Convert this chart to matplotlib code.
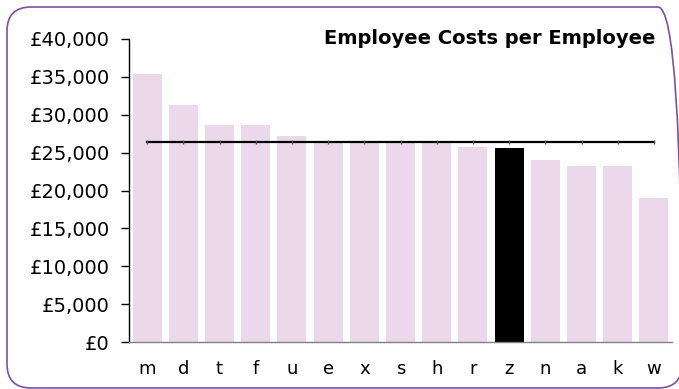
import matplotlib
matplotlib.use("Agg")
import matplotlib.pyplot as plt
from matplotlib.patches import FancyBboxPatch
from matplotlib.ticker import FuncFormatter

# Employee costs per employee by organisation
categories = ["m", "d", "t", "f", "u", "e", "x", "s", "h", "r", "z", "n", "a", "k", "w"]
costs = [35400, 31300, 28650, 28650, 27200, 26400, 26250, 26250, 26250,
         25800, 25600, 24000, 23300, 23300, 19000]
highlight = "z"
average_cost = 26450

plt.rcParams["font.family"] = ["DejaVu Sans"]

W, H, DPI = 679, 389, 100
fig = plt.figure(figsize=(W / DPI, H / DPI), dpi=DPI)
fig.patch.set_facecolor("white")

# rounded purple frame around the chart (display pixel coordinates)
frame = FancyBboxPatch((7, 1), 675, 381,
                       boxstyle="round,pad=0,rounding_size=24",
                       transform=None,
                       facecolor="none", edgecolor="#7E4FA3", linewidth=1.2,
                       clip_on=False)
fig.patches.append(frame)

ax = fig.add_axes([129 / W, 1 - 342 / H, (672 - 129) / W, (342 - 39) / H])
ax.set_facecolor("none")

x = list(range(len(categories)))
colors = ["#000000" if c == highlight else "#EBD9EB" for c in categories]
ax.bar(x, costs, width=0.8, color=colors, zorder=2)

ax.plot([x[0], x[-1]], [average_cost, average_cost], color="#000000",
        linewidth=1.6, zorder=3)
ax.plot(x, [average_cost] * len(x), linestyle="none", marker="|",
        markersize=3, color="#555555", zorder=4)

ax.set_xlim(-0.5, len(categories) - 0.5)
ax.set_ylim(0, 40000)
ax.set_yticks(range(0, 40001, 5000))
ax.yaxis.set_major_formatter(FuncFormatter(lambda v, p: f"£{int(v):,}"))
ax.set_xticks(x)
ax.set_xticklabels(categories)

ax.spines["top"].set_visible(False)
ax.spines["right"].set_visible(False)
ax.spines["left"].set_color("#000000")
ax.spines["bottom"].set_color("#808080")
ax.spines["left"].set_linewidth(1.0)
ax.spines["bottom"].set_linewidth(1.0)

ax.tick_params(axis="y", length=6, width=1, direction="out", labelsize=14,
               pad=8, colors="#000000")
ax.tick_params(axis="x", length=0, labelsize=13, pad=13, colors="#000000")

fig.text(655 / W, 1 - 44 / H, "Employee Costs per Employee", ha="right",
         va="baseline", fontsize=14, fontweight="bold", color="#000000")

fig.savefig("out.png", dpi=DPI, facecolor="white")
